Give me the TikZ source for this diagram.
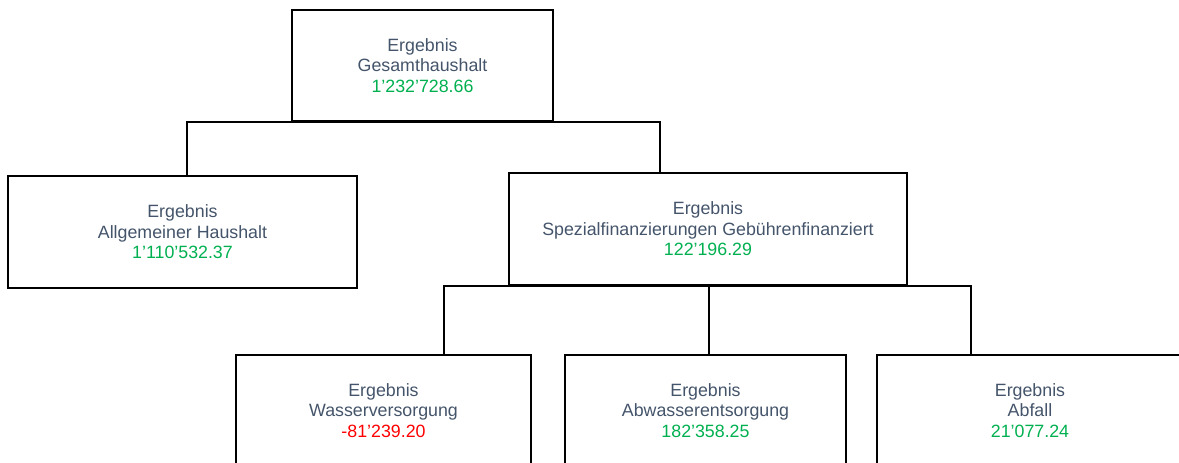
\documentclass[tikz,border=0pt]{standalone}
\usepackage{fontspec}
\setmainfont{Liberation Sans}
\usepackage{tikz}
\usetikzlibrary{positioning}
\usepackage{color}
\definecolor{txtgray}{HTML}{44546A}
\definecolor{plusgreen}{HTML}{00B050}
\definecolor{minusred}{HTML}{FF0000}
\tikzstyle{result} = [rectangle, inner sep=2mm, align=center, draw=black, line width=2pt, text=txtgray, font=\fontsize{17.8}{20.5}\selectfont]
\tikzstyle{link} = [line width=2pt, draw=black]

\begin{document}
\begin{tikzpicture}[x=1pt, y=-1pt]
\useasboundingbox (0,0) rectangle (1179,463);

\node (gesamt) [result, minimum width=261pt, minimum height=111pt] at (422.5,65.5) {Ergebnis\\Gesamthaushalt\\\textcolor{plusgreen}{1’232’728.66}};
\node (allg) [result, minimum width=349pt, minimum height=112pt] at (182.5,232) {Ergebnis\\Allgemeiner Haushalt\\\textcolor{plusgreen}{1’110’532.37}};
\node (spez) [result, minimum width=398pt, minimum height=112pt] at (708,229) {Ergebnis\\Spezialfinanzierungen Gebührenfinanziert\\\textcolor{plusgreen}{122’196.29}};
\node (wasser) [result, minimum width=295pt, minimum height=111pt] at (383.5,410.5) {Ergebnis\\Wasserversorgung\\\textcolor{minusred}{-81’239.20}};
\node (abwasser) [result, minimum width=281pt, minimum height=111pt] at (705.5,410.5) {Ergebnis\\Abwasserentsorgung\\\textcolor{plusgreen}{182’358.25}};
\node (abfall) [result, minimum width=306pt, minimum height=111pt] at (1030,410.5) {Ergebnis\\Abfall\\\textcolor{plusgreen}{21’077.24}};

\draw [link] ([xshift=4.5pt]allg.north) |- (gesamt.south) -| ([xshift=-48pt]spez.north);
\draw [link] ([xshift=60.5pt]wasser.north) |- (spez.south) -| ([xshift=-59pt]abfall.north);
\draw [link] ([xshift=1pt]spez.south) -- ([xshift=1pt]spez.south |- abwasser.north);

\end{tikzpicture}
\end{document}
